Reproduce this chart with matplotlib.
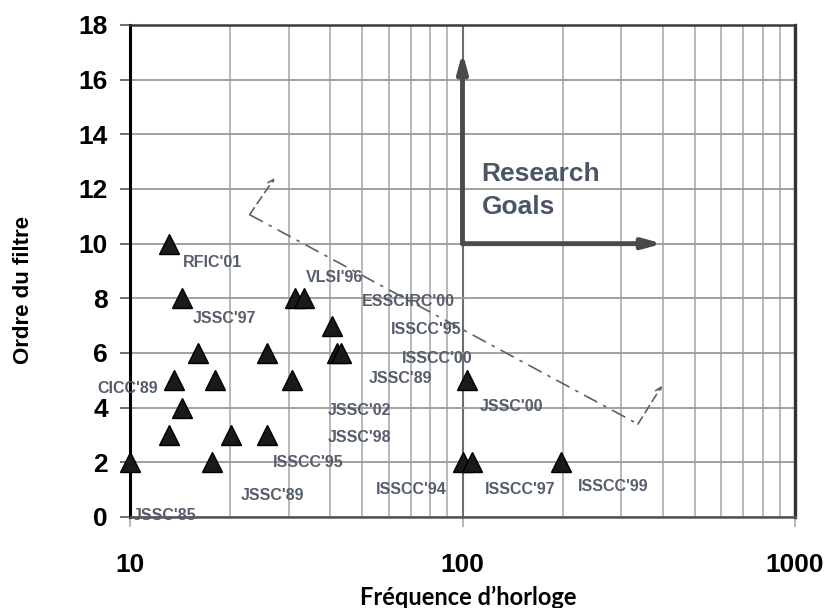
import numpy as np
import matplotlib
matplotlib.use('Agg')
import matplotlib.pyplot as plt
from matplotlib import rc

rc('font', **{'family': ['Liberation Sans', 'DejaVu Sans']})

# filter realisations: clock frequency vs. filter order
freq = [10, 13.1, 14.3, 16.0, 13.6, 18.0, 14.3, 13.1, 20.1, 25.8, 17.6,
        25.8, 30.6, 31.3, 33.3, 40.4, 42.0, 43.2, 103.5, 100, 107, 198]
order = [2, 10, 8, 6, 5, 5, 4, 3, 3, 3, 2,
         6, 5, 8, 8, 7, 6, 6, 5, 2, 2, 2]

# reference labels (left edge, centre height)
lab_names = ["RFIC'01", "VLSI'96", "ESSCIRC'00", "ISSCC'95", "ISSCC'00",
             "JSSC'89", "JSSC'00", "JSSC'02", "JSSC'98", "ISSCC'95",
             "JSSC'89", "JSSC'85", "CICC'89", "JSSC'97", "ISSCC'94",
             "ISSCC'97", "ISSCC'99"]
lab_x = [14.4, 33.8, 49.8, 60.8, 65.6, 52.2, 112.5, 39.4, 39.4, 26.9,
         21.5, 10.2, 8.0, 15.4, 54.8, 116.4, 223]
lab_y = [9.3, 8.75, 7.9, 6.85, 5.8, 5.05, 4.03, 3.9, 2.9, 2.0,
         0.8, 0.07, 4.7, 7.25, 1.0, 1.0, 1.1]

# research goals arrows
goal_origin = (100, 10)
goal_up = (100, 17.0)
goal_right = (400, 10)

# dash-dot trend boundary
trend_x = [27.2, 22.9, 337, 398]
trend_y = [12.4, 11.06, 3.4, 4.8]

W, H = 827, 608
fig = plt.figure(figsize=(W / 100, H / 100), dpi=100)
ax = fig.add_axes([130 / W, 91 / H, 665 / W, 492 / H])
ax.set_xscale('log')
ax.set_xlim(10, 1000)
ax.set_ylim(0, 18)
ax.set_yticks(np.arange(0, 19, 2))
ax.set_xticks([10, 100, 1000])
ax.set_xticklabels(['10', '100', '1000'])
ax.xaxis.set_minor_formatter(matplotlib.ticker.NullFormatter())

ax.grid(which='major', axis='y', color='#9a9a9a', lw=1.3, zorder=0)
ax.grid(which='major', axis='x', color='#6e6e6e', lw=1.5, zorder=0)
ax.grid(which='minor', axis='x', color='#ababab', lw=1.2, zorder=0)
ax.set_axisbelow(True)

ax.tick_params(axis='y', which='major', length=7, width=1.2, color='#555555',
               pad=9, labelsize=19)
ax.tick_params(axis='x', which='major', length=7, width=1.2, color='#aaaaaa',
               pad=19, labelsize=19)
ax.tick_params(axis='x', which='minor', length=0)
for t in ax.get_yticklabels():
    t.set_fontweight('bold')
for t in ax.get_xticklabels():
    t.set_fontweight('bold')

ax.spines['left'].set_linewidth(2.2)
ax.spines['left'].set_color('black')
ax.spines['right'].set_linewidth(2.4)
ax.spines['right'].set_color('#333333')
ax.spines['top'].set_linewidth(1.8)
ax.spines['top'].set_color('#3a3a3a')
ax.spines['bottom'].set_linewidth(1.8)
ax.spines['bottom'].set_color('#555555')

# trend line
ax.plot(trend_x[1:3], trend_y[1:3], color='#606060', lw=1.2,
        dashes=(9, 4, 2, 4), zorder=2)
for i0, i1 in [(1, 0), (2, 3)]:
    ax.annotate('', xy=(trend_x[i1], trend_y[i1]), xytext=(trend_x[i0], trend_y[i0]),
                arrowprops=dict(arrowstyle='->,head_length=0.4,head_width=0.2',
                                color='#606060', lw=1.2, linestyle=(0, (5, 3)),
                                shrinkA=0, shrinkB=0), zorder=2)

# research goals
for tip in (goal_up, goal_right):
    ax.annotate('', xy=tip, xytext=goal_origin,
                arrowprops=dict(arrowstyle='-|>,head_length=1.1,head_width=0.3',
                                color='#4a4a4a', lw=3.5, shrinkA=0, shrinkB=0),
                zorder=3)
ax.text(114, 11.95, 'Research\nGoals', fontsize=19, fontweight='bold',
        color='#4b5565', ha='left', va='center', linespacing=1.5)

ax.plot(freq, order, '^', color='#1a1a1a', mec='black', ms=15,
        zorder=5, clip_on=False)

for name, x, y in zip(lab_names, lab_x, lab_y):
    ax.text(x, y, name, fontsize=11.5, fontweight='bold', color='#565d6b',
            ha='left', va='center', zorder=4)

fig.text(24 / W, 1 - 290 / H, 'Ordre du filtre', rotation=90, ha='center',
         va='center', fontsize=16, fontweight='bold')
fig.text(468 / W, 1 - 597 / H, 'Fréquence d\u2019horloge', ha='center',
         va='center', fontsize=17, fontweight='bold', family=['Lato', 'DejaVu Sans'])

fig.savefig('out.png', dpi=100)
